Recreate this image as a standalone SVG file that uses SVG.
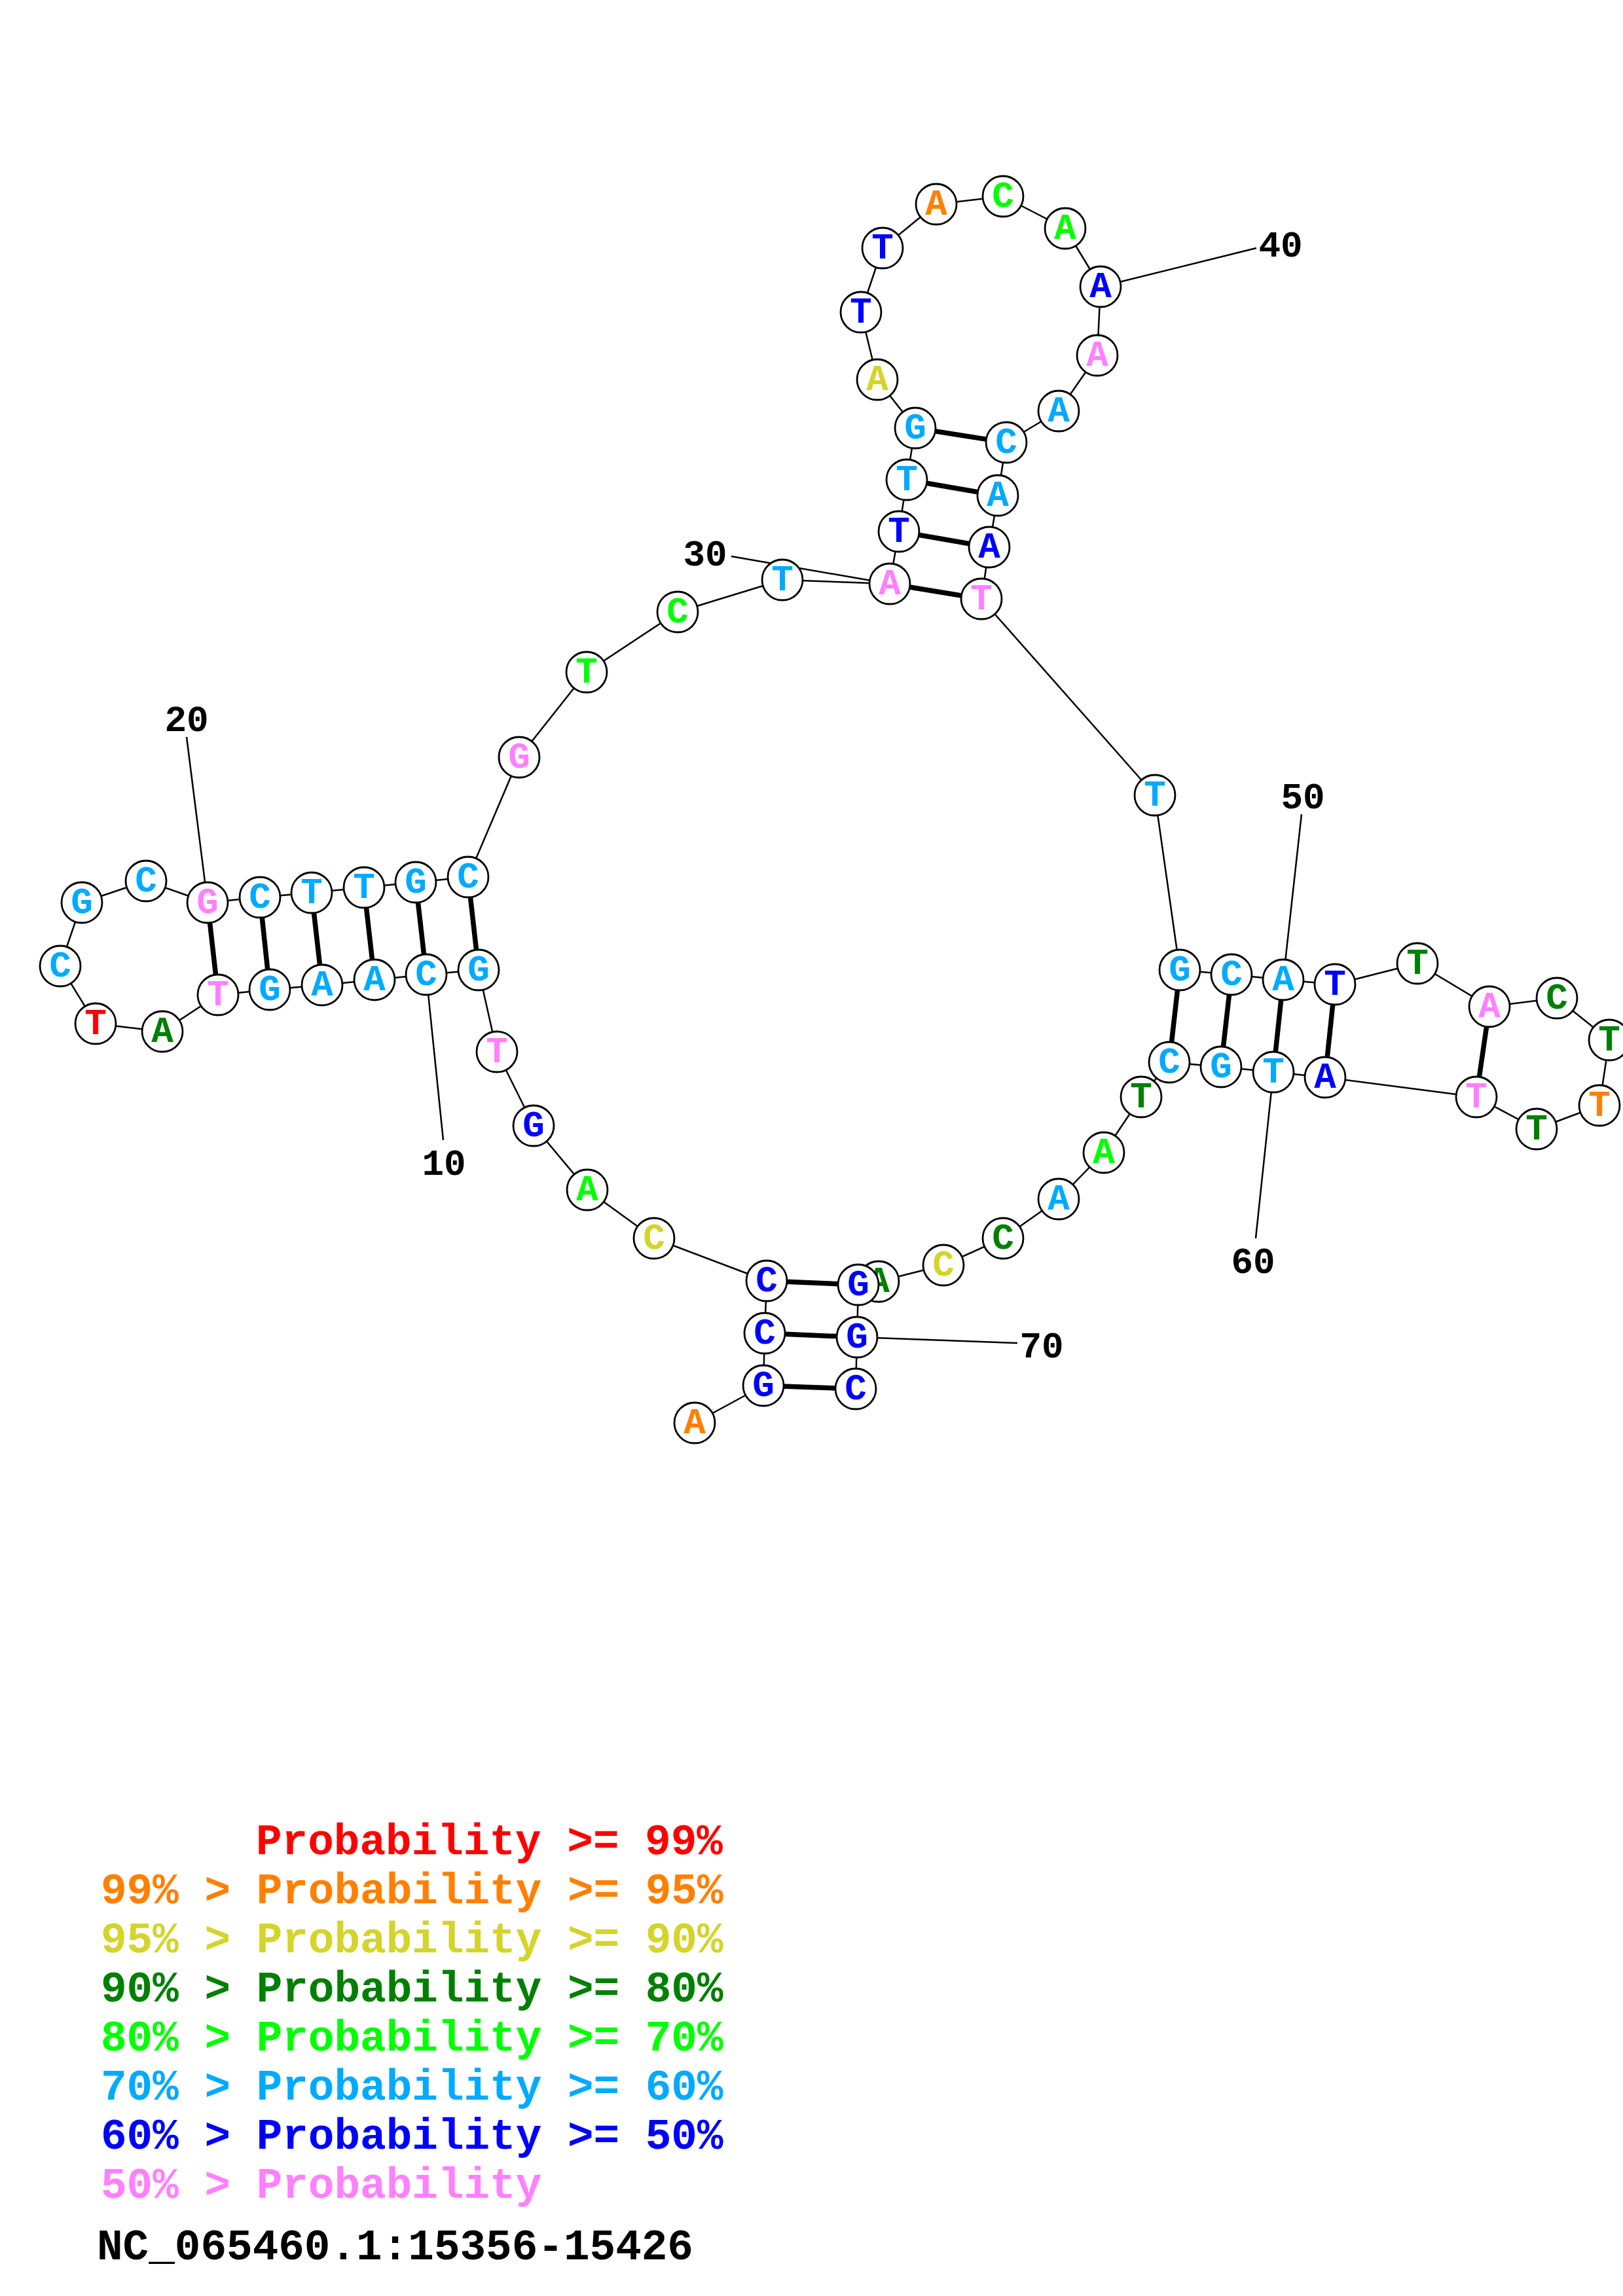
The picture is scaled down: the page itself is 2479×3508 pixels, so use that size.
<svg xmlns="http://www.w3.org/2000/svg" width="2479" height="3508" viewBox="0 0 2479 3508">
<style>
.bb{fill:none;stroke:#000;stroke-width:2.5;stroke-linejoin:round}
.pr{stroke:#000;stroke-width:7.5}
.ll{stroke:#000;stroke-width:2.5}
.nd circle{fill:#fff;stroke:#000;stroke-width:2.8}
.nd text{font-family:"Liberation Mono","DejaVu Sans Mono",monospace;font-weight:bold;font-size:56px;text-anchor:middle}
.lab{font-family:"Liberation Mono","DejaVu Sans Mono",monospace;font-weight:bold;font-size:56px;text-anchor:middle;fill:#000}
.leg{font-family:"Liberation Mono","DejaVu Sans Mono",monospace;font-weight:bold;font-size:66px}
.r{fill:#FF0000}.o{fill:#FF8000}.y{fill:#D4D42A}.dg{fill:#008000}.g{fill:#00FF00}.c{fill:#00AAFF}.b{fill:#0000FF}.p{fill:#FF80FF}
</style>
<rect width="2479" height="3508" fill="#fff"/>
<g id="connectors">
<polyline class="bb" points="1061,2174 1166,2117 1168,2037 1171,1957 999,1892 897,1818 815,1720 759,1607 731,1482 651,1489 572,1497 492,1505 412,1512 333,1520 248,1576 146,1564 92,1476 125,1379 223,1346 317,1379 397,1371 476,1364 556,1356 635,1348 715,1340 793,1157 896,1027 1035,935 1195,886 1359,892 1373,812 1385,733 1398,654 1340,580 1315,477 1348,379 1430,312 1532,300 1627,349 1681,438 1676,543 1617,628 1537,676 1524,757 1511,836 1499,915 1764,1215 1802,1482 1881,1489 1960,1497 2039,1504 2165,1472 2275,1538 2378,1525 2458,1589 2443,1689 2347,1725 2255,1676 2024,1646 1945,1638 1865,1630 1786,1623 1743,1676 1686,1761 1617,1832 1532,1892 1441,1933 1342,1958 1311,1963 1309,2043 1307,2122"/>
<g id="pairs">
<line class="pr" x1="1166" y1="2117" x2="1307" y2="2122"/>
<line class="pr" x1="1168" y1="2037" x2="1309" y2="2043"/>
<line class="pr" x1="1171" y1="1957" x2="1311" y2="1963"/>
<line class="pr" x1="731" y1="1482" x2="715" y2="1340"/>
<line class="pr" x1="651" y1="1489" x2="635" y2="1348"/>
<line class="pr" x1="572" y1="1497" x2="556" y2="1356"/>
<line class="pr" x1="492" y1="1505" x2="476" y2="1364"/>
<line class="pr" x1="412" y1="1512" x2="397" y2="1371"/>
<line class="pr" x1="333" y1="1520" x2="317" y2="1379"/>
<line class="pr" x1="1359" y1="892" x2="1499" y2="915"/>
<line class="pr" x1="1373" y1="812" x2="1511" y2="836"/>
<line class="pr" x1="1385" y1="733" x2="1524" y2="757"/>
<line class="pr" x1="1398" y1="654" x2="1537" y2="676"/>
<line class="pr" x1="1802" y1="1482" x2="1786" y2="1623"/>
<line class="pr" x1="1881" y1="1489" x2="1865" y2="1630"/>
<line class="pr" x1="1960" y1="1497" x2="1945" y2="1638"/>
<line class="pr" x1="2039" y1="1504" x2="2024" y2="1646"/>
<line class="pr" x1="2275" y1="1538" x2="2255" y2="1676"/>
</g>
<g id="label-lines">
<line class="ll" x1="651" y1="1489" x2="677" y2="1742"/>
<line class="ll" x1="317" y1="1379" x2="285" y2="1126"/>
<line class="ll" x1="1359" y1="892" x2="1117" y2="850"/>
<line class="ll" x1="1681" y1="438" x2="1919" y2="379"/>
<line class="ll" x1="1960" y1="1497" x2="1988" y2="1244"/>
<line class="ll" x1="1945" y1="1638" x2="1918" y2="1892"/>
<line class="ll" x1="1309" y1="2043" x2="1554" y2="2052"/>
</g>
</g>
<g id="nodes">
<g id="n1" class="nd" transform="translate(1061,2174)"><circle r="31"/><text y="16" class="o">A</text></g>
<g id="n2" class="nd" transform="translate(1166,2117)"><circle r="31"/><text y="16" class="b">G</text></g>
<g id="n3" class="nd" transform="translate(1168,2037)"><circle r="31"/><text y="16" class="b">C</text></g>
<g id="n4" class="nd" transform="translate(1171,1957)"><circle r="31"/><text y="16" class="b">C</text></g>
<g id="n5" class="nd" transform="translate(999,1892)"><circle r="31"/><text y="16" class="y">C</text></g>
<g id="n6" class="nd" transform="translate(897,1818)"><circle r="31"/><text y="16" class="g">A</text></g>
<g id="n7" class="nd" transform="translate(815,1720)"><circle r="31"/><text y="16" class="b">G</text></g>
<g id="n8" class="nd" transform="translate(759,1607)"><circle r="31"/><text y="16" class="p">T</text></g>
<g id="n9" class="nd" transform="translate(731,1482)"><circle r="31"/><text y="16" class="c">G</text></g>
<g id="n10" class="nd" transform="translate(651,1489)"><circle r="31"/><text y="16" class="c">C</text></g>
<g id="n11" class="nd" transform="translate(572,1497)"><circle r="31"/><text y="16" class="c">A</text></g>
<g id="n12" class="nd" transform="translate(492,1505)"><circle r="31"/><text y="16" class="c">A</text></g>
<g id="n13" class="nd" transform="translate(412,1512)"><circle r="31"/><text y="16" class="c">G</text></g>
<g id="n14" class="nd" transform="translate(333,1520)"><circle r="31"/><text y="16" class="p">T</text></g>
<g id="n15" class="nd" transform="translate(248,1576)"><circle r="31"/><text y="16" class="dg">A</text></g>
<g id="n16" class="nd" transform="translate(146,1564)"><circle r="31"/><text y="16" class="r">T</text></g>
<g id="n17" class="nd" transform="translate(92,1476)"><circle r="31"/><text y="16" class="c">C</text></g>
<g id="n18" class="nd" transform="translate(125,1379)"><circle r="31"/><text y="16" class="c">G</text></g>
<g id="n19" class="nd" transform="translate(223,1346)"><circle r="31"/><text y="16" class="c">C</text></g>
<g id="n20" class="nd" transform="translate(317,1379)"><circle r="31"/><text y="16" class="p">G</text></g>
<g id="n21" class="nd" transform="translate(397,1371)"><circle r="31"/><text y="16" class="c">C</text></g>
<g id="n22" class="nd" transform="translate(476,1364)"><circle r="31"/><text y="16" class="c">T</text></g>
<g id="n23" class="nd" transform="translate(556,1356)"><circle r="31"/><text y="16" class="c">T</text></g>
<g id="n24" class="nd" transform="translate(635,1348)"><circle r="31"/><text y="16" class="c">G</text></g>
<g id="n25" class="nd" transform="translate(715,1340)"><circle r="31"/><text y="16" class="c">C</text></g>
<g id="n26" class="nd" transform="translate(793,1157)"><circle r="31"/><text y="16" class="p">G</text></g>
<g id="n27" class="nd" transform="translate(896,1027)"><circle r="31"/><text y="16" class="g">T</text></g>
<g id="n28" class="nd" transform="translate(1035,935)"><circle r="31"/><text y="16" class="g">C</text></g>
<g id="n29" class="nd" transform="translate(1195,886)"><circle r="31"/><text y="16" class="c">T</text></g>
<g id="n30" class="nd" transform="translate(1359,892)"><circle r="31"/><text y="16" class="p">A</text></g>
<g id="n31" class="nd" transform="translate(1373,812)"><circle r="31"/><text y="16" class="b">T</text></g>
<g id="n32" class="nd" transform="translate(1385,733)"><circle r="31"/><text y="16" class="c">T</text></g>
<g id="n33" class="nd" transform="translate(1398,654)"><circle r="31"/><text y="16" class="c">G</text></g>
<g id="n34" class="nd" transform="translate(1340,580)"><circle r="31"/><text y="16" class="y">A</text></g>
<g id="n35" class="nd" transform="translate(1315,477)"><circle r="31"/><text y="16" class="b">T</text></g>
<g id="n36" class="nd" transform="translate(1348,379)"><circle r="31"/><text y="16" class="b">T</text></g>
<g id="n37" class="nd" transform="translate(1430,312)"><circle r="31"/><text y="16" class="o">A</text></g>
<g id="n38" class="nd" transform="translate(1532,300)"><circle r="31"/><text y="16" class="g">C</text></g>
<g id="n39" class="nd" transform="translate(1627,349)"><circle r="31"/><text y="16" class="g">A</text></g>
<g id="n40" class="nd" transform="translate(1681,438)"><circle r="31"/><text y="16" class="b">A</text></g>
<g id="n41" class="nd" transform="translate(1676,543)"><circle r="31"/><text y="16" class="p">A</text></g>
<g id="n42" class="nd" transform="translate(1617,628)"><circle r="31"/><text y="16" class="c">A</text></g>
<g id="n43" class="nd" transform="translate(1537,676)"><circle r="31"/><text y="16" class="c">C</text></g>
<g id="n44" class="nd" transform="translate(1524,757)"><circle r="31"/><text y="16" class="c">A</text></g>
<g id="n45" class="nd" transform="translate(1511,836)"><circle r="31"/><text y="16" class="b">A</text></g>
<g id="n46" class="nd" transform="translate(1499,915)"><circle r="31"/><text y="16" class="p">T</text></g>
<g id="n47" class="nd" transform="translate(1764,1215)"><circle r="31"/><text y="16" class="c">T</text></g>
<g id="n48" class="nd" transform="translate(1802,1482)"><circle r="31"/><text y="16" class="c">G</text></g>
<g id="n49" class="nd" transform="translate(1881,1489)"><circle r="31"/><text y="16" class="c">C</text></g>
<g id="n50" class="nd" transform="translate(1960,1497)"><circle r="31"/><text y="16" class="c">A</text></g>
<g id="n51" class="nd" transform="translate(2039,1504)"><circle r="31"/><text y="16" class="b">T</text></g>
<g id="n52" class="nd" transform="translate(2165,1472)"><circle r="31"/><text y="16" class="dg">T</text></g>
<g id="n53" class="nd" transform="translate(2275,1538)"><circle r="31"/><text y="16" class="p">A</text></g>
<g id="n54" class="nd" transform="translate(2378,1525)"><circle r="31"/><text y="16" class="dg">C</text></g>
<g id="n55" class="nd" transform="translate(2458,1589)"><circle r="31"/><text y="16" class="dg">T</text></g>
<g id="n56" class="nd" transform="translate(2443,1689)"><circle r="31"/><text y="16" class="o">T</text></g>
<g id="n57" class="nd" transform="translate(2347,1725)"><circle r="31"/><text y="16" class="dg">T</text></g>
<g id="n58" class="nd" transform="translate(2255,1676)"><circle r="31"/><text y="16" class="p">T</text></g>
<g id="n59" class="nd" transform="translate(2024,1646)"><circle r="31"/><text y="16" class="b">A</text></g>
<g id="n60" class="nd" transform="translate(1945,1638)"><circle r="31"/><text y="16" class="c">T</text></g>
<g id="n61" class="nd" transform="translate(1865,1630)"><circle r="31"/><text y="16" class="c">G</text></g>
<g id="n62" class="nd" transform="translate(1786,1623)"><circle r="31"/><text y="16" class="c">C</text></g>
<g id="n63" class="nd" transform="translate(1743,1676)"><circle r="31"/><text y="16" class="dg">T</text></g>
<g id="n64" class="nd" transform="translate(1686,1761)"><circle r="31"/><text y="16" class="g">A</text></g>
<g id="n65" class="nd" transform="translate(1617,1832)"><circle r="31"/><text y="16" class="c">A</text></g>
<g id="n66" class="nd" transform="translate(1532,1892)"><circle r="31"/><text y="16" class="dg">C</text></g>
<g id="n67" class="nd" transform="translate(1441,1933)"><circle r="31"/><text y="16" class="y">C</text></g>
<g id="n68" class="nd" transform="translate(1342,1958)"><circle r="31"/><text y="16" class="dg">A</text></g>
<g id="n69" class="nd" transform="translate(1311,1963)"><circle r="31"/><text y="16" class="b">G</text></g>
<g id="n70" class="nd" transform="translate(1309,2043)"><circle r="31"/><text y="16" class="b">G</text></g>
<g id="n71" class="nd" transform="translate(1307,2122)"><circle r="31"/><text y="16" class="b">C</text></g>
</g>
<g id="labels">
<text class="lab" x="678" y="1795">10</text>
<text class="lab" x="285" y="1117">20</text>
<text class="lab" x="1077" y="864">30</text>
<text class="lab" x="1956" y="392">40</text>
<text class="lab" x="1990" y="1235">50</text>
<text class="lab" x="1914" y="1945">60</text>
<text class="lab" x="1591" y="2074">70</text>
</g>
<g id="legend" class="leg">
<text x="391" y="2833" class="r">Probability &gt;= 99%</text>
<text x="154" y="2908" class="o">99% &gt; Probability &gt;= 95%</text>
<text x="154" y="2983" class="y">95% &gt; Probability &gt;= 90%</text>
<text x="154" y="3058" class="dg">90% &gt; Probability &gt;= 80%</text>
<text x="154" y="3133" class="g">80% &gt; Probability &gt;= 70%</text>
<text x="154" y="3208" class="c">70% &gt; Probability &gt;= 60%</text>
<text x="154" y="3283" class="b">60% &gt; Probability &gt;= 50%</text>
<text x="154" y="3358" class="p">50% &gt; Probability</text>
<text x="148" y="3452" fill="#000" style="font-size:66px">NC_065460.1:15356-15426</text>
</g>
</svg>
